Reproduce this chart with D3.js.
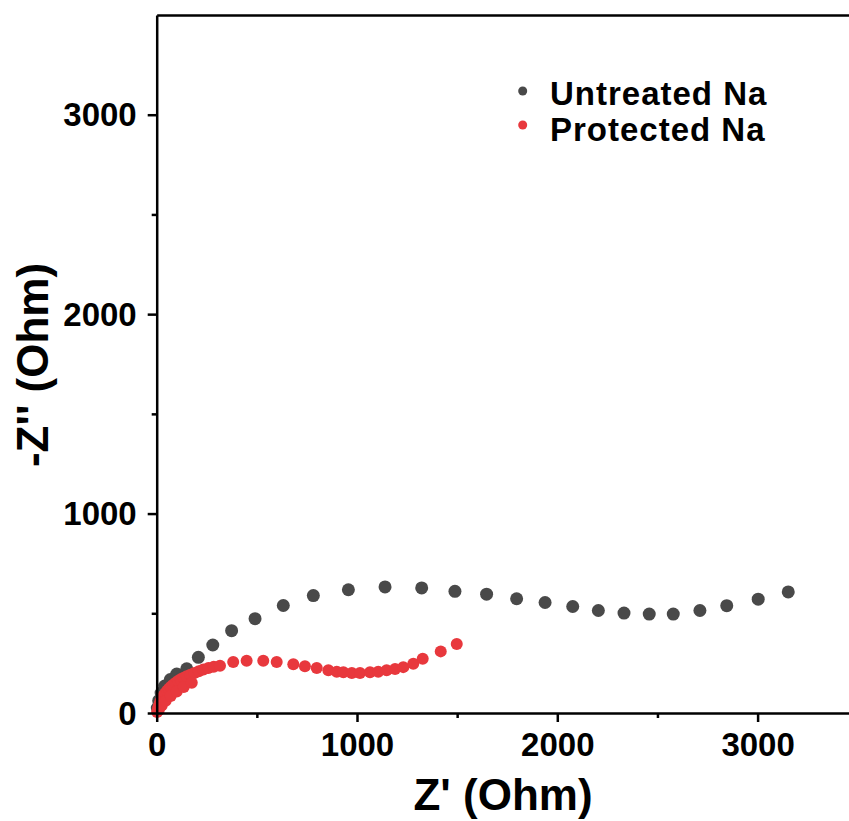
<!DOCTYPE html>
<html>
<head>
<meta charset="utf-8">
<script src="https://cdn.jsdelivr.net/npm/d3@7"></script>
<style>
  body { margin: 0; background: #fff; }
  text { font-family: "Liberation Sans", Arial, sans-serif; font-weight: bold; }
</style>
</head>
<body>
<div id="chart"></div>
<script>
// Untreated Na: Z' and -Z'' (Ohm)
let untreatedX = [3, 10, 22, 40, 68, 100, 150, 208, 280, 374, 491, 632, 782, 957, 1140, 1323, 1489, 1647, 1797, 1939, 2077, 2205, 2333, 2459, 2579, 2712, 2846, 3003, 3153]
let untreatedY = [25, 62, 100, 135, 168, 195, 222, 279, 341, 413, 473, 539, 589, 618, 632, 627, 610, 596, 573, 554, 534, 514, 501, 496, 496, 514, 538, 571, 607]

// Protected Na
let protectedX = [2, 6, 10, 15, 20, 27, 34, 42, 51, 60, 70, 81, 93, 106, 120, 135, 150, 168, 188, 210, 233, 258, 285, 316, 382, 449, 532, 599, 682, 740, 799, 857, 899, 932, 974, 1015, 1065, 1106, 1148, 1190, 1231, 1281, 1328, 1418, 1498]
let protectedY = [5, 20, 34, 48, 60, 74, 86, 98, 110, 121, 131, 141, 151, 160, 169, 177, 184, 192, 200, 209, 218, 226, 232, 237, 256, 262, 262, 256, 244, 234, 226, 214, 207, 204, 200, 200, 204, 207, 214, 221, 230, 247, 272, 309, 346]

// inner edge of the dense low-frequency arc
let protectedInnerX = [10, 25, 45, 70, 100, 135, 175]
let protectedInnerY = [14, 38, 62, 85, 108, 130, 152]

let series = ['Untreated Na', 'Protected Na']
let colors = ['#494949', '#e8383d']

let majorTicks = [0, 1000, 2000, 3000]
let minorTicks = [500, 1500, 2500]

let width = 849, height = 821
let margin = {left: 156.7, top: 15, right: 0, bottom: 108}

let svg = d3.select('#chart').append('svg')
    .attr('width', width).attr('height', height)

let x = d3.scaleLinear([0, 3500], [margin.left, margin.left + 3500 * 0.2003])
let y = d3.scaleLinear([0, 3500], [height - margin.bottom, margin.top])

let toPoints = (xs, ys) => xs.map((v, i) => ({x: v, y: ys[i]}))
let data = [
    toPoints(untreatedX, untreatedY),
    toPoints(protectedX, protectedY).concat(toPoints(protectedInnerX, protectedInnerY))
]
let radius = [6.5, 6]

data.forEach((pts, k) => {
    svg.append('g').selectAll('circle')
        .data(pts).enter()
        .append('circle')
        .attr('cx', d => x(d.x))
        .attr('cy', d => y(d.y))
        .attr('r', radius[k])
        .attr('fill', colors[k])
})

function styleAxis(g) {
    g.selectAll('.domain').attr('stroke', '#000').attr('stroke-width', 2.5)
    g.selectAll('.tick line').attr('stroke', '#000').attr('stroke-width', 2.5)
    g.selectAll('.tick text').attr('fill', '#000').attr('font-size', 33)
}

let yBase = y(0)

let xAxis = svg.append('g').attr('transform', `translate(0,${yBase})`)
    .call(d3.axisBottom(x).tickValues(majorTicks).tickFormat(d3.format('d')).tickSize(9).tickPadding(11).tickSizeOuter(0))
styleAxis(xAxis)
svg.append('g').attr('transform', `translate(0,${yBase})`)
    .call(d3.axisBottom(x).tickValues(minorTicks).tickFormat('').tickSize(5).tickSizeOuter(0))
    .call(g => g.select('.domain').remove())
    .call(styleAxis)

let yAxis = svg.append('g').attr('transform', `translate(${margin.left},0)`)
    .call(d3.axisLeft(y).tickValues(majorTicks).tickFormat(d3.format('d')).tickSize(9).tickPadding(11).tickSizeOuter(0))
styleAxis(yAxis)
yAxis.selectAll('.tick text').attr('dy', '0.34em')
svg.append('g').attr('transform', `translate(${margin.left},0)`)
    .call(d3.axisLeft(y).tickValues(minorTicks).tickFormat('').tickSize(5).tickSizeOuter(0))
    .call(g => g.select('.domain').remove())
    .call(styleAxis)

svg.append('g').attr('transform', `translate(0,${margin.top})`)
    .call(d3.axisTop(x).tickValues([]).tickSizeOuter(0))
    .call(styleAxis)

svg.append('text')
    .attr('x', 503).attr('y', 810)
    .attr('text-anchor', 'middle')
    .attr('font-size', 44)
    .text("Z' (Ohm)")

svg.append('text')
    .attr('transform', 'translate(48,365) rotate(-90)')
    .attr('text-anchor', 'middle')
    .attr('font-size', 44)
    .text("-Z'' (Ohm)")

let legend = svg.append('g')
series.forEach((name, i) => {
    legend.append('circle')
        .attr('cx', 522.7).attr('cy', 91 + i * 34)
        .attr('r', 4.5)
        .attr('fill', colors[i])
    legend.append('text')
        .attr('x', 550).attr('y', 105 + i * 36)
        .attr('font-size', 33)
        .attr('letter-spacing', 1)
        .text(name)
})
</script>
</body>
</html>
